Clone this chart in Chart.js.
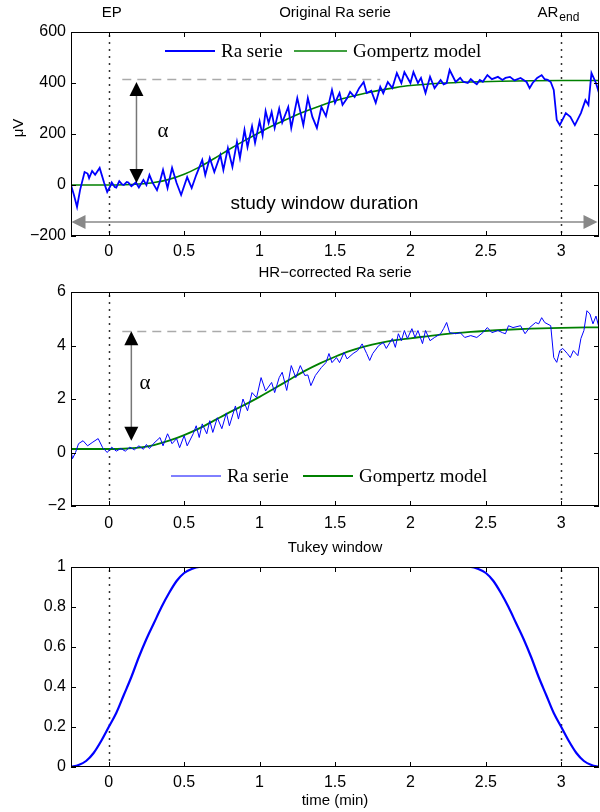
<!DOCTYPE html>
<html>
<head>
<meta charset="utf-8">
<script src="https://cdn.jsdelivr.net/npm/chart.js@4.4.0/dist/chart.umd.min.js"></script>
<style>
  body { margin: 0; background: #fff; width: 600px; height: 812px; overflow: hidden; position: relative; }
  canvas { position: absolute; left: 0; }
</style>
</head>
<body>
<canvas id="panelOrig" width="600" height="262" style="top:0px"></canvas>
<canvas id="panelHr" width="600" height="268" style="top:262px"></canvas>
<canvas id="panelTukey" width="600" height="282" style="top:530px"></canvas>
<script>
// ---- data ----
var xTicks = [0, 0.5, 1, 1.5, 2, 2.5, 3];
var yTicksOrig = [-200, 0, 200, 400, 600];
var yTicksHr = [-2, 0, 2, 4, 6];
var yTicksTukey = [0, 0.2, 0.4, 0.6, 0.8, 1];

// original Ra serie (time in min, µV)
var raTimeOrig = [-0.25,-0.23,-0.21,-0.19,-0.16,-0.14,-0.13,-0.11,-0.09,-0.06,
  -0.03,-0.01,0.01,0.02,0.04,0.05,0.07,0.09,0.1,0.12,
  0.13,0.15,0.18,0.2,0.23,0.25,0.27,0.29,0.32,0.34,
  0.36,0.39,0.42,0.45,0.48,0.52,0.55,0.58,0.62,0.64,
  0.67,0.7,0.74,0.76,0.79,0.82,0.85,0.87,0.9,0.92,
  0.95,0.97,1.0,1.02,1.04,1.06,1.08,1.1,1.13,1.15,
  1.19,1.21,1.25,1.29,1.32,1.35,1.38,1.41,1.44,1.48,
  1.5,1.53,1.55,1.58,1.6,1.63,1.66,1.69,1.71,1.74,
  1.77,1.8,1.82,1.85,1.88,1.91,1.94,1.96,2.0,2.02,
  2.05,2.07,2.1,2.13,2.16,2.2,2.22,2.24,2.26,2.3,
  2.33,2.35,2.38,2.4,2.42,2.44,2.46,2.48,2.51,2.54,
  2.58,2.61,2.63,2.66,2.69,2.73,2.75,2.77,2.79,2.81,
  2.84,2.87,2.89,2.91,2.93,2.95,2.97,2.99,3.03,3.06,
  3.09,3.13,3.16,3.18,3.2,3.23,3.25];
var raOrig = [0,-40,-86,-20,51,45,27,55,40,67,
  8,-27,-5,10,-8,-10,15,2,0,12,
  10,-5,10,-10,20,0,39,10,-20,15,
  59,-12,67,8,-39,31,-12,39,98,39,
  106,51,118,59,145,71,169,106,216,149,
  230,165,250,195,290,243,286,224,300,245,
  306,224,341,235,341,267,224,306,270,373,
  322,361,314,340,365,345,380,404,361,370,
  322,385,360,404,380,439,400,443,400,443,
  400,420,361,424,380,412,395,400,451,404,
  420,405,400,415,404,395,412,405,431,415,
  424,412,420,424,410,420,412,404,380,400,
  420,431,415,412,404,373,255,235,282,267,
  235,282,333,314,439,400,361];

// HR-corrected Ra serie
var raTimeHr = [-0.25,-0.24,-0.22,-0.2,-0.17,-0.14,-0.11,-0.07,-0.04,-0.01,
  0.02,0.05,0.08,0.11,0.14,0.17,0.2,0.23,0.25,0.27,
  0.3,0.34,0.36,0.39,0.42,0.45,0.47,0.5,0.52,0.56,
  0.58,0.6,0.62,0.65,0.67,0.69,0.72,0.75,0.78,0.8,
  0.84,0.86,0.89,0.92,0.95,0.98,1.01,1.04,1.08,1.1,
  1.13,1.15,1.18,1.21,1.24,1.27,1.3,1.32,1.34,1.37,
  1.41,1.44,1.46,1.48,1.51,1.53,1.56,1.58,1.62,1.65,
  1.68,1.71,1.73,1.75,1.79,1.82,1.84,1.88,1.9,1.92,
  1.94,1.96,1.98,2.01,2.03,2.05,2.08,2.1,2.13,2.16,
  2.2,2.22,2.24,2.26,2.3,2.33,2.36,2.4,2.44,2.48,
  2.51,2.54,2.58,2.61,2.63,2.65,2.68,2.73,2.76,2.79,
  2.83,2.85,2.87,2.89,2.93,2.95,2.97,2.99,3.01,3.04,
  3.06,3.08,3.11,3.13,3.15,3.17,3.19,3.21,3.23,3.25];
var raHr = [0.06,-0.23,0.0,0.33,0.44,0.25,0.37,0.52,0.18,0.0,
  0.2,0.05,0.15,0.05,0.2,0.1,0.25,0.12,0.3,0.15,
  0.35,0.56,0.25,0.7,0.33,0.52,0.18,0.63,0.25,0.7,
  1.0,0.56,1.07,0.7,1.19,0.75,1.3,0.89,1.48,1.0,
  1.74,1.25,2.0,1.56,2.24,2.05,2.8,2.3,2.62,2.24,
  2.8,3.0,2.32,3.25,2.8,3.25,2.88,2.9,2.5,2.88,
  3.18,3.36,3.7,3.36,3.55,3.36,3.74,3.5,3.7,3.81,
  4.06,3.7,3.44,3.7,4.0,4.11,3.89,4.26,3.93,4.44,
  4.18,4.56,4.26,4.63,4.3,4.56,4.07,4.56,4.18,4.3,
  4.44,4.63,4.86,4.48,4.44,4.48,4.3,4.37,4.3,4.48,
  4.67,4.48,4.56,4.48,4.44,4.74,4.67,4.74,4.44,4.67,
  4.86,4.81,5.04,4.86,4.74,3.55,3.37,3.81,3.89,3.7,
  3.55,3.81,3.62,4.26,4.56,5.3,5.18,4.81,5.1,4.67];

// Gompertz fits
var gompTime = [-0.25,-0.1,0,0.1,0.2,0.3,0.4,0.5,0.6,0.7,0.8,0.9,1.0,1.1,1.2,1.3,1.4,1.5,1.6,1.7,1.8,1.9,2.0,2.2,2.4,2.6,2.8,3.0,3.25];
var gompOrig = [0,0,0,1,4,10,22,42,70,104,140,174,206,236,263,288,310,330,346,360,372,382,390,399,404,407,409,410,410];
var gompHr = [0.13,0.13,0.13,0.14,0.18,0.28,0.44,0.65,0.9,1.2,1.5,1.78,2.08,2.4,2.73,3.05,3.33,3.58,3.8,3.97,4.1,4.2,4.27,4.41,4.51,4.58,4.63,4.66,4.68];

// Tukey window
var tukeyTime = [-0.25,-0.2,-0.15,-0.1,-0.05,0,0.05,0.1,0.15,0.2,0.25,0.3,0.35,0.4,0.45,0.5,0.55,0.6,
  2.4,2.45,2.5,2.55,2.6,2.65,2.7,2.75,2.8,2.85,2.9,2.95,3.0,3.05,3.1,3.15,3.2,3.25];
var tukey = [0,0.01,0.03,0.07,0.13,0.2,0.27,0.36,0.45,0.55,0.64,0.72,0.8,0.87,0.93,0.97,0.99,1,
  1,0.99,0.97,0.93,0.87,0.8,0.72,0.64,0.55,0.45,0.36,0.27,0.2,0.13,0.07,0.03,0.01,0];

var SANS = '"Liberation Sans", Arial, sans-serif';
var SERIF = '"Liberation Serif", "Times New Roman", serif';

function pts(t, v) {
  return t.map(function (x, i) { return { x: x, y: v[i] }; });
}

function minus(v) {
  return String(v).replace('-', '\u2212');
}

function line(ctx, x0, y0, x1, y1) {
  ctx.beginPath();
  ctx.moveTo(x0, y0);
  ctx.lineTo(x1, y1);
  ctx.stroke();
}

function head(ctx, x, y, dir, len, half, color) {
  ctx.fillStyle = color;
  ctx.beginPath();
  ctx.moveTo(x, y);
  if (dir === 'up') { ctx.lineTo(x - half, y + len); ctx.lineTo(x + half, y + len); }
  if (dir === 'down') { ctx.lineTo(x - half, y - len); ctx.lineTo(x + half, y - len); }
  if (dir === 'left') { ctx.lineTo(x + len, y - half); ctx.lineTo(x + len, y + half); }
  if (dir === 'right') { ctx.lineTo(x - len, y - half); ctx.lineTo(x - len, y + half); }
  ctx.closePath();
  ctx.fill();
}

function text(ctx, s, x, y, font, align) {
  ctx.font = font;
  ctx.fillStyle = '#000';
  ctx.textAlign = align || 'center';
  ctx.textBaseline = 'middle';
  ctx.fillText(s, x, y);
}

// matlab-like decorations: box, inward ticks, markers, arrows, legend, labels
var decor = {
  id: 'decor',
  beforeDatasetsDraw: function (chart, args, o) {
    var ctx = chart.ctx, a = chart.chartArea, x = chart.scales.x, y = chart.scales.y;
    ctx.save();
    ctx.strokeStyle = '#333';
    ctx.lineWidth = 1.5;
    ctx.setLineDash([2, 5]);
    (o.markers || []).forEach(function (m) {
      var px = Math.round(x.getPixelForValue(m)) + 0.5;
      line(ctx, px, a.top + 3, px, a.bottom);
    });
    if (o.level) {
      ctx.strokeStyle = '#aaa';
      ctx.setLineDash([9, 6]);
      var ly = Math.round(y.getPixelForValue(o.level.y)) + 0.5;
      line(ctx, x.getPixelForValue(o.level.x0), ly, x.getPixelForValue(o.level.x1), ly);
    }
    ctx.restore();
  },
  afterDatasetsDraw: function (chart, args, o) {
    var ctx = chart.ctx, a = chart.chartArea, x = chart.scales.x, y = chart.scales.y;
    ctx.save();
    ctx.setLineDash([]);
    // box and ticks
    ctx.strokeStyle = '#000';
    ctx.lineWidth = 1;
    ctx.strokeRect(a.left + 0.5, a.top + 0.5, a.right - a.left - 1, a.bottom - a.top - 1);
    xTicks.forEach(function (v) {
      var px = Math.round(x.getPixelForValue(v)) + 0.5;
      line(ctx, px, a.bottom, px, a.bottom - 5);
      line(ctx, px, a.top, px, a.top + 5);
    });
    o.yTicks.forEach(function (v) {
      var py = Math.round(y.getPixelForValue(v)) + 0.5;
      line(ctx, a.left, py, a.left + 5, py);
      line(ctx, a.right, py, a.right - 5, py);
    });
    // alpha arrow
    if (o.alpha) {
      var ax = x.getPixelForValue(o.alpha.x);
      var y0 = y.getPixelForValue(o.alpha.y0), y1 = y.getPixelForValue(o.alpha.y1);
      ctx.strokeStyle = '#777';
      ctx.lineWidth = 1.5;
      line(ctx, ax, y0 - 10, ax, y1 + 10);
      head(ctx, ax, y1, 'up', 14, 7, '#000');
      head(ctx, ax, y0, 'down', 14, 7, '#000');
      text(ctx, '\u03b1', x.getPixelForValue(o.alpha.tx), y.getPixelForValue(o.alpha.ty), '21px ' + SERIF);
    }
    // study window arrow
    if (o.study) {
      var sy = y.getPixelForValue(o.study.y);
      ctx.strokeStyle = '#888';
      ctx.lineWidth = 1.5;
      line(ctx, a.left + 10, sy, a.right - 10, sy);
      head(ctx, a.left + 0.5, sy, 'left', 14, 7, '#888');
      head(ctx, a.right - 1.5, sy, 'right', 14, 7, '#888');
      text(ctx, 'study window duration', x.getPixelForValue(o.study.tx), y.getPixelForValue(o.study.ty), '19px ' + SANS);
    }
    // legend
    if (o.legend) {
      chart.data.datasets.forEach(function (ds, i) {
        var it = o.legend.items[i];
        ctx.strokeStyle = ds.borderColor;
        ctx.lineWidth = ds.borderWidth;
        line(ctx, it[0], o.legend.y, it[1], o.legend.y);
        text(ctx, ds.label, it[1] + 6, o.legend.y + 1, '19px ' + SERIF, 'left');
      });
    }
    // titles and labels
    var cx = (a.left + a.right) / 2;
    if (o.title) text(ctx, o.title, cx, o.titleY, '15px ' + SANS);
    if (o.xlabel) text(ctx, o.xlabel, cx, o.xlabelY, '15px ' + SANS);
    if (o.ylabel) {
      ctx.save();
      ctx.translate(19, (a.top + a.bottom) / 2 - 6);
      ctx.rotate(-Math.PI / 2);
      text(ctx, o.ylabel, 0, 0, '15px ' + SANS);
      ctx.restore();
    }
    if (o.tags) {
      var p0 = x.getPixelForValue(0), p3 = x.getPixelForValue(3);
      text(ctx, 'EP', p0 + 3, 13, '15px ' + SANS);
      text(ctx, 'AR', p3 - 3, 13, '15px ' + SANS, 'right');
      text(ctx, 'end', p3 - 2, 18, '12px ' + SANS, 'left');
    }
    ctx.restore();
  }
};

function makePanel(id, cfg) {
  var ctx = document.getElementById(id).getContext('2d');
  return new Chart(ctx, {
    type: 'line',
    data: { datasets: cfg.datasets },
    options: {
      responsive: false,
      animation: false,
      events: [],
      devicePixelRatio: 1,
      layout: { padding: { top: cfg.top, right: 1, left: 0, bottom: 0 } },
      elements: { point: { radius: 0 } },
      plugins: {
        legend: { display: false },
        tooltip: { enabled: false },
        decor: cfg.decor
      },
      scales: {
        x: {
          type: 'linear',
          min: -0.25,
          max: 3.25,
          grid: { display: false, drawTicks: false },
          border: { display: false },
          afterBuildTicks: function (s) { s.ticks = xTicks.map(function (v) { return { value: v }; }); },
          afterFit: function (s) { s.height = cfg.xHeight; },
          ticks: {
            autoSkip: false, maxRotation: 0, padding: cfg.xPad, color: '#000',
            font: { family: SANS, size: 16 },
            callback: function (v) { return minus(v); }
          }
        },
        y: {
          type: 'linear',
          min: cfg.yTicks[0],
          max: cfg.yTicks[cfg.yTicks.length - 1],
          grid: { display: false, drawTicks: false },
          border: { display: false },
          afterBuildTicks: function (s) { s.ticks = cfg.yTicks.map(function (v) { return { value: v }; }); },
          afterFit: function (s) { s.width = 71; },
          ticks: {
            autoSkip: false, padding: 5, color: '#000',
            font: { family: SANS, size: 16 },
            callback: function (v) { return minus(v); }
          }
        }
      }
    },
    plugins: [decor]
  });
}

makePanel('panelOrig', {
  top: 32, xHeight: 26, xPad: 6, yTicks: yTicksOrig,
  datasets: [
    { label: 'Ra serie', data: pts(raTimeOrig, raOrig), borderColor: '#0000ff', borderWidth: 1.8, tension: 0 },
    { label: 'Gompertz model', data: pts(gompTime, gompOrig), borderColor: '#008000', borderWidth: 1.6, cubicInterpolationMode: 'monotone' }
  ],
  decor: {
    yTicks: yTicksOrig, markers: [0, 3],
    level: { y: 415, x0: 0.09, x1: 1.8 },
    alpha: { x: 0.184, y0: 8, y1: 404, tx: 0.36, ty: 210 },
    study: { y: -145, tx: 1.43, ty: -72 },
    legend: { y: 51, items: [[165, 215], [294, 347]] },
    title: 'Original Ra serie', titleY: 13,
    ylabel: '\u03bcV', tags: true
  }
});

makePanel('panelHr', {
  top: 30, xHeight: 24, xPad: 8, yTicks: yTicksHr,
  datasets: [
    { label: 'Ra serie', data: pts(raTimeHr, raHr), borderColor: '#0000ff', borderWidth: 1, tension: 0 },
    { label: 'Gompertz model', data: pts(gompTime, gompHr), borderColor: '#008000', borderWidth: 1.8, cubicInterpolationMode: 'monotone' }
  ],
  decor: {
    yTicks: yTicksHr, markers: [0, 3],
    level: { y: 4.56, x0: 0.09, x1: 2.15 },
    alpha: { x: 0.15, y0: 0.44, y1: 4.53, tx: 0.24, ty: 2.58 },
    legend: { y: 214, items: [[171, 221], [303, 353]] },
    title: 'HR\u2212corrected Ra serie', titleY: 11
  }
});

makePanel('panelTukey', {
  top: 37, xHeight: 45, xPad: 6, yTicks: yTicksTukey,
  datasets: [
    { label: 'Tukey window', data: pts(tukeyTime, tukey), borderColor: '#0000ff', borderWidth: 2.2, cubicInterpolationMode: 'monotone' }
  ],
  decor: {
    yTicks: yTicksTukey, markers: [0, 3],
    title: 'Tukey window', titleY: 18,
    xlabel: 'time (min)', xlabelY: 271
  }
});
</script>
</body>
</html>
